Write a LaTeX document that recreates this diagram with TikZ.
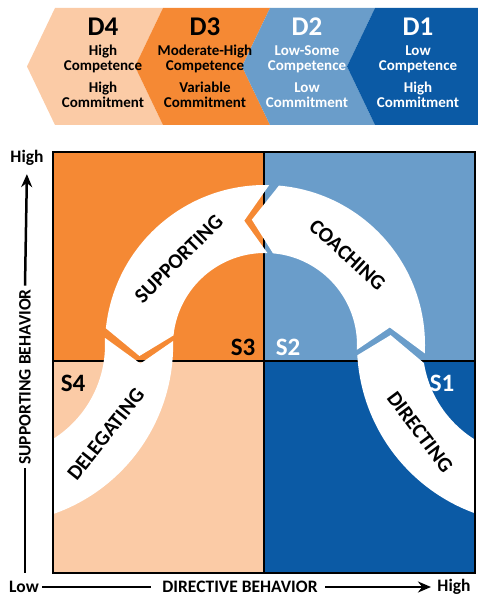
\documentclass[tikz,border=0pt]{standalone}
\usepackage{fontspec}
\setmainfont{Carlito}
\usetikzlibrary{calc,arrows.meta}

\definecolor{peachfill}{RGB}{251,203,166}
\definecolor{orangefill}{RGB}{245,137,52}
\definecolor{skyfill}{RGB}{106,157,202}
\definecolor{navyfill}{RGB}{11,90,165}

\tikzstyle{band} = [fill=white]
\tikzstyle{dtitle} = [font=\bfseries\fontsize{27}{27}\selectfont, inner sep=0pt]
\tikzstyle{dtext} = [font=\bfseries\fontsize{15}{15}\selectfont, align=center, inner sep=0pt]
\tikzstyle{slabel} = [font=\bfseries\fontsize{25}{25}\selectfont, inner sep=0pt]
\tikzstyle{alabel} = [font=\bfseries\fontsize{21}{21}\selectfont, inner sep=0pt]
\tikzstyle{axlabel} = [font=\bfseries\fontsize{17.5}{17.5}\selectfont]
\tikzstyle{axis} = [line width=2.5pt]

\begin{document}
\begin{tikzpicture}[x=1pt,y=1pt]
  \useasboundingbox (0,0) rectangle (478,596);
  % development levels
  \fill[peachfill] (55,588) -- (27,529.5) -- (55,471) -- (163,471) -- (135,529.5) -- (163,588) -- cycle;
  \fill[orangefill] (163,588) -- (135,529.5) -- (163,471) -- (270,471) -- (242,529.5) -- (270,588) -- cycle;
  \fill[skyfill] (270,588) -- (242,529.5) -- (270,471) -- (375,471) -- (347,529.5) -- (375,588) -- cycle;
  \fill[navyfill] (375,588) -- (347,529.5) -- (375,471) -- (478,471) -- (478,588) -- cycle;
  \node[dtitle] (d4) at (103,569) {D4};
  \node[dtext] (d4comp) at (103,537) {High\\Competence};
  \node[dtext] (d4comm) at (103,501) {High\\Commitment};
  \node[dtitle] (d3) at (205,569) {D3};
  \node[dtext] (d3comp) at (205,537) {Moderate-High\\Competence};
  \node[dtext] (d3comm) at (205,501) {Variable\\Commitment};
  \node[dtitle, white] (d2) at (307,569) {D2};
  \node[dtext, white] (d2comp) at (307,537) {Low-Some\\Competence};
  \node[dtext, white] (d2comm) at (307,501) {Low\\Commitment};
  \node[dtitle, white] (d1) at (418,569) {D1};
  \node[dtext, white] (d1comp) at (418,537) {Low\\Competence};
  \node[dtext, white] (d1comm) at (418,501) {High\\Commitment};

  % quadrants
  \fill[orangefill] (53,235) rectangle (264,444);
  \fill[skyfill] (264,235) rectangle (475,444);
  \fill[peachfill] (53,23) rectangle (264,235);
  \fill[navyfill] (264,23) rectangle (475,235);
  \draw[line width=2pt] (264,23) -- (264,444);
  \draw[line width=2pt] (53,235) -- (475,235);

  % style arrows
  \coordinate (C) at (265,251);
  \coordinate (D) at (-6,251);
  \coordinate (E) at (536,251);
  \begin{scope}
    \clip (53,23) rectangle (475,444);
    \fill[band] ($(E)+(260:179)$) arc[start angle=260, end angle=183.3, radius=179]
      -- ($(C)+(4.5:126)$) -- ($(C)+(-6.5:160)$) arc[start angle=189.2, end angle=260, radius=111] -- cycle;
    \fill[band] ($(C)+(-3:160)$) -- ($(C)+(8:126)$) -- ($(C)+(-3:92)$) arc[start angle=-3, end angle=85, radius=92]
      -- ($(C)+(96:126)$) -- ($(C)+(85:160)$) arc[start angle=85, end angle=-3, radius=160] -- cycle;
    \fill[band] ($(C)+(88.5:160)$) arc[start angle=88.5, end angle=174, radius=160] -- ($(C)+(185:126)$)
      -- ($(C)+(174:92)$) arc[start angle=174, end angle=88.5, radius=92] -- ($(C)+(99.5:126)$) -- cycle;
    \fill[band] ($(C)+(177.5:160)$) -- ($(C)+(188.5:126)$) -- ($(C)+(177.5:92)$) arc[start angle=1.3, end angle=-80, radius=179]
      -- ($(D)+(-80:111)$) arc[start angle=-80, end angle=3.6, radius=111] -- cycle;
  \end{scope}
  \draw[line width=2.5pt] (53,23) rectangle (475,444);

  \node[alabel, rotate=-42.5] (coach) at ($(C)+(47.5:122)$) {COACHING};
  \node[alabel, rotate=45] (supp) at ($(C)+(135:122)$) {SUPPORTING};
  \node[alabel, rotate=51.4] (deleg) at ($(D)+(-38.6:143)$) {DELEGATING};
  \node[alabel, rotate=-53.1] (direct) at ($(E)+(216.9:145)$) {DIRECTING};

  \node[slabel] (s3) at (243,249) {S3};
  \node[slabel, white] (s2) at (288,249) {S2};
  \node[slabel] (s4) at (73,213) {S4};
  \node[slabel, white] (s1) at (442,213) {S1};

  % axes
  \node[axlabel] (low) at (24,9) {Low};
  \node[axlabel] (xlab) at (240,9) {DIRECTIVE BEHAVIOR};
  \node[axlabel] (xhigh) at (454,9) {High};
  \node[axlabel] (yhigh) at (27,438) {High};
  \node[axlabel, rotate=90] (ylab) at (25,219) {SUPPORTING BEHAVIOR};
  \coordinate (ybot) at (25,23);
  \draw[axis, shorten >=8pt] (low.east) -- (xlab.west);
  \draw[axis, shorten <=4pt, shorten >=3pt, -{Stealth[length=13pt,width=11pt]}] (xlab.east) -- (xhigh.west);
  \draw[axis] (ybot) -- (ylab.west);
  \draw[axis, shorten >=5pt, -{Stealth[length=13pt,width=11pt]}] (ylab.east) -- (yhigh.south);
\end{tikzpicture}
\end{document}
